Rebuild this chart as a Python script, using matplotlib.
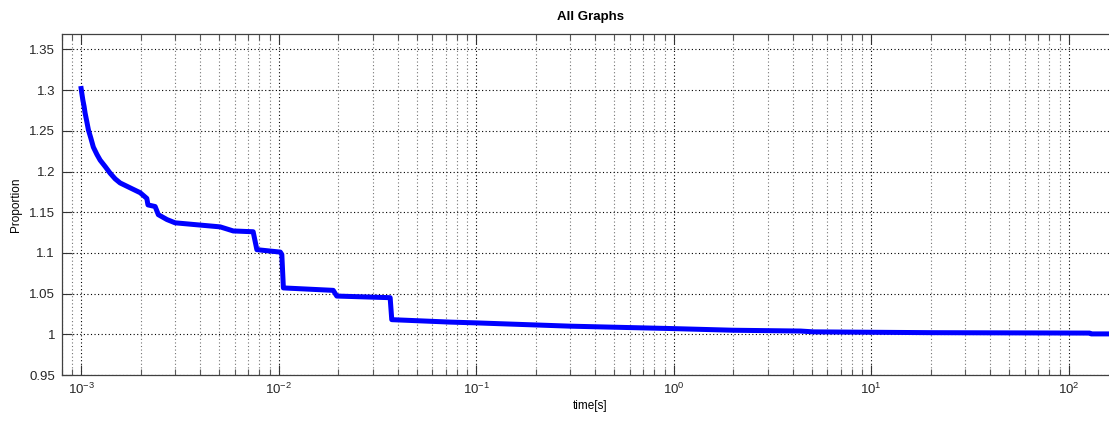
import numpy as np
import matplotlib
matplotlib.use('Agg')
import matplotlib.pyplot as plt
from matplotlib.ticker import LogLocator, NullFormatter

plt.rcParams['font.family'] = ['Liberation Sans', 'DejaVu Sans']
plt.rcParams['mathtext.fontset'] = 'custom'
plt.rcParams['mathtext.rm'] = 'Liberation Sans'
plt.rcParams['mathtext.it'] = 'Liberation Sans'
plt.rcParams['axes.unicode_minus'] = False

# values
time_s = [1.0e-3, 1.008e-3, 1.02e-3, 1.035e-3, 1.047e-3, 1.069e-3, 1.089e-3,
          1.120e-3, 1.153e-3, 1.202e-3, 1.248e-3, 1.325e-3, 1.402e-3, 1.487e-3,
          1.575e-3, 1.77e-3, 1.99e-3, 2.15e-3, 2.18e-3, 2.37e-3, 2.46e-3,
          2.72e-3, 2.99e-3, 3.69e-3, 5.06e-3, 5.89e-3, 7.43e-3, 7.76e-3,
          1.02e-2, 1.038e-2, 1.057e-2, 1.89e-2, 1.97e-2, 3.67e-2, 3.74e-2,
          7.38e-2, 0.101, 0.30, 1.0, 2.0, 4.4, 5.1, 20.6, 128, 130, 182]
proportion = [1.302, 1.296, 1.288, 1.280, 1.272, 1.261, 1.251,
              1.241, 1.230, 1.221, 1.214, 1.206, 1.198, 1.191,
              1.186, 1.180, 1.174, 1.167, 1.159, 1.157, 1.147,
              1.141, 1.137, 1.135, 1.132, 1.127, 1.126, 1.104,
              1.101, 1.098, 1.057, 1.054, 1.047, 1.045, 1.018,
              1.015, 1.014, 1.010, 1.007, 1.005, 1.004, 1.003, 1.002, 1.0015, 1.0005, 1.0005]
yticks = [0.95, 1.0, 1.05, 1.1, 1.15, 1.2, 1.25, 1.3, 1.35]
ytick_labels = ['0.95', '1', '1.05', '1.1', '1.15', '1.2', '1.25', '1.3', '1.35']

fig = plt.figure(figsize=(11.09, 4.21), dpi=100)
ax = fig.add_axes([62/1109, 46/421, 1057/1109, 341/421])

ax.plot(time_s, proportion, color='#0000ff', lw=3.6, solid_joinstyle='round')

ax.set_xscale('log')
ax.set_xlim(8e-4, 180)
ax.set_ylim(0.95, 1.369)
ax.set_yticks(yticks)
ax.set_yticklabels(ytick_labels)
ax.xaxis.set_major_locator(LogLocator(base=10, numticks=10))
ax.xaxis.set_minor_locator(LogLocator(base=10, subs=np.arange(2, 10), numticks=20))
ax.xaxis.set_minor_formatter(NullFormatter())

dots = (0, (1, 2.2))
ax.grid(True, which='major', axis='both', color='black', linestyle=dots, lw=0.8)
ax.grid(True, which='minor', axis='x', color='0.45', linestyle=dots, lw=0.8)

ax.tick_params(which='major', direction='in', length=7, width=0.8, color='0.2',
               top=True, right=True, labelsize=9.5, labelcolor='0.15', pad=5)
ax.tick_params(which='minor', direction='in', length=4, width=0.8, color='0.35',
               top=True, right=True)
for s in ax.spines.values():
    s.set_color('0.25')
    s.set_linewidth(0.9)

ax.set_title('All Graphs', fontsize=9.5, fontweight='bold', pad=10)
ax.set_xlabel('time[s]', fontsize=8.5, labelpad=2)
ax.set_ylabel('Proportion', fontsize=8.5, labelpad=5)

fig.savefig('out.png', dpi=100)
